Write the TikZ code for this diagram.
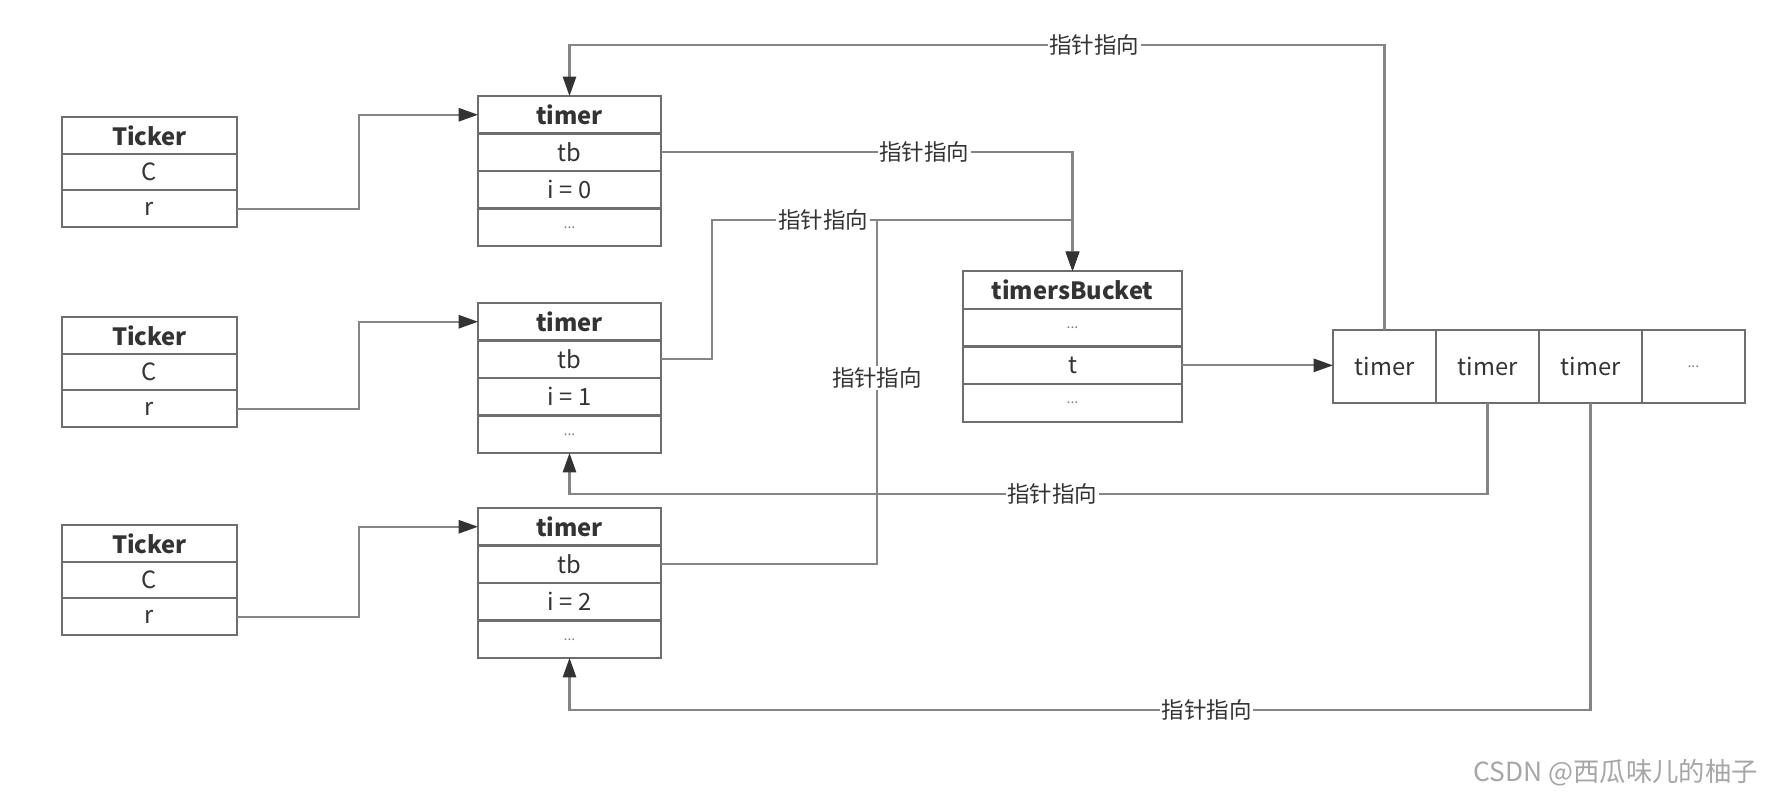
\documentclass[tikz,border=0pt]{standalone}
\usepackage{fontspec}
\setmainfont{Noto Sans CJK SC}
\usetikzlibrary{positioning,arrows.meta}
\definecolor{boxgray}{HTML}{6E6E6E}
\definecolor{linegray}{HTML}{858585}
\definecolor{inkgray}{HTML}{333333}
\begin{document}
\begin{tikzpicture}[x=0.02cm,y=-0.02cm,
	cell/.style={draw=boxgray,line width=1.2pt,inner sep=0,outer sep=0pt,text=inkgray,font=\fontsize{13.5}{15}\selectfont},
	tkcell/.style={cell,minimum width=3.5cm,minimum height=0.734cm},
	tmcell/.style={cell,minimum width=3.66cm,minimum height=0.75cm},
	bkcell/.style={cell,minimum width=4.38cm,minimum height=0.755cm},
	arcell/.style={cell,minimum width=2.06cm,minimum height=1.46cm},
	bold/.style={font=\fontsize{13.5}{15}\selectfont\bfseries},
	dots/.style={font=\fontsize{8}{9}\selectfont,text=gray},
	ptr/.style={draw=linegray,line width=1.2pt,-{Triangle[length=11pt,width=7.5pt,color=inkgray]}},
	tag/.style={fill=white,inner sep=1pt,text=inkgray,font=\fontsize{12.8}{14}\selectfont}]
	\useasboundingbox (0,0) rectangle (1779,795);
	\foreach \k/\i/\y/\ty in {1/0/117/96, 2/1/317/303, 3/2/525/508}{
		\node [tkcell,bold,anchor=north] at (149.5,\y) (tk\k) {Ticker};
		\node [tkcell,below=0pt of tk\k] (tkc\k) {C};
		\node [tkcell,below=0pt of tkc\k] (tkr\k) {r};
		\node [tmcell,bold,anchor=north] at (569.5,\ty) (tm\k) {timer};
		\node [tmcell,below=0pt of tm\k] (tmb\k) {tb};
		\node [tmcell,below=0pt of tmb\k] (tmi\k) {i = \i};
		\node [tmcell,dots,below=0pt of tmi\k] (tmd\k) {...};
		\draw [ptr] (tkr\k.east) -- ++(122,0) |- (tm\k.west);
	}
	\node [bkcell,bold,anchor=north] at (1072.5,271) (bk) {timersBucket};
	\node [bkcell,dots,below=0pt of bk] (bkd) {...};
	\node [bkcell,below=0pt of bkd] (bkt) {t};
	\node [bkcell,dots,below=0pt of bkt] (bke) {...};
	\node [arcell,anchor=north west] at (1333,330) (a1) {timer};
	\node [arcell,right=0pt of a1] (a2) {timer};
	\node [arcell,right=0pt of a2] (a3) {timer};
	\node [arcell,dots,right=0pt of a3] (a4) {...};
	\coordinate (jn) at (1072.5,220);
	\draw [ptr] (tmb1.east) -| node [tag,pos=0.32] {指针指向} (bk.north);
	\draw [ptr] (tmb2.east) -- ++(51,0) |- node [tag,pos=0.654] {指针指向} (jn) -- (bk.north);
	\draw [ptr] (tmb3.east) -- ++(216,0) |- node [tag,pos=0.271] {指针指向} (jn) -- (bk.north);
	\draw [ptr] (bkt.east) -- (bkt.east -| a1.west);
	\draw [ptr] (a1.north) -- ++(0,-285) -| node [tag,pos=0.178] {指针指向} (tm1.north);
	\draw [ptr] (a2.south) -- ++(0,91) -| node [tag,pos=0.237] {指针指向} (tmd2.south);
	\draw [ptr] (a3.south) -- ++(0,307) -| node [tag,pos=0.188] {指针指向} (tmd3.south);
	\node [anchor=east,text=gray!70,font=\fontsize{15}{17}\selectfont] at (1764,773) (mark) {CSDN @西瓜味儿的柚子};
\end{tikzpicture}
\end{document}
